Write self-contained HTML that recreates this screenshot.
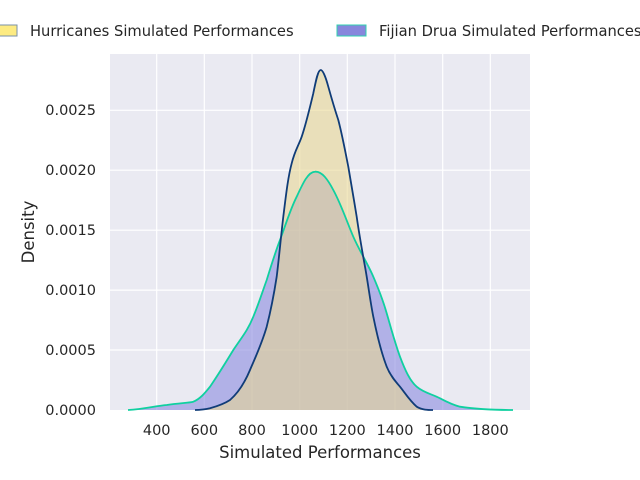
<!DOCTYPE html>
<html><head><meta charset="utf-8"><style>html,body{margin:0;padding:0;background:#fff}svg{display:block}text{font-family:"DejaVu Sans","Liberation Sans",sans-serif;fill:#262626}</style></head>
<body>
<svg width="640" height="480" viewBox="0 0 640 480" xmlns="http://www.w3.org/2000/svg">
<rect x="110" y="54" width="420" height="356" fill="#eaeaf2"/>
<g stroke="#fff" stroke-width="1.2">
<line x1="156.7" y1="54" x2="156.7" y2="410"/><line x1="204.3" y1="54" x2="204.3" y2="410"/>
<line x1="252" y1="54" x2="252" y2="410"/><line x1="299.7" y1="54" x2="299.7" y2="410"/>
<line x1="347.3" y1="54" x2="347.3" y2="410"/><line x1="395" y1="54" x2="395" y2="410"/>
<line x1="442.7" y1="54" x2="442.7" y2="410"/><line x1="490.3" y1="54" x2="490.3" y2="410"/>
<line x1="110" y1="110.3" x2="530" y2="110.3"/><line x1="110" y1="170.2" x2="530" y2="170.2"/>
<line x1="110" y1="230.2" x2="530" y2="230.2"/><line x1="110" y1="290.1" x2="530" y2="290.1"/>
<line x1="110" y1="350" x2="530" y2="350"/>
</g>
<path d="M128,410 C145,409 155,406 166.7,405 C180,403 188,403 193.3,401.7 C200,399 205,393 210,386.7 C218,375 226,362 233.3,350 C242,337 248,330 253.3,316.7 C259,303 262,293 266.7,280 C271,266 275,253 280,240 C286,224 290,210 296.7,196.7 C303,183 308,172 315,171.7 C322,171 328,180 333.3,190 C341,204 347,222 353.3,236.7 C360,252 368,264 373.3,276.7 C379,290 383,300 386.7,313.3 C391,328 395,343 400,356.7 C405,370 410,381 416.7,386.7 C424,393 432,394 440,398.3 C447,402 453,405 460,406.7 C475,409 495,410 513,410 Z" fill="#8b8be0" fill-opacity="0.6"/>
<path d="M195,410 C200,410 205,409.5 210,408.3 C218,406 224,404 230,400 C238,393 245,382 250,370 C256,356 262,343 266.7,326.7 C271,310 274,294 276.7,276.7 C279,258 281,236 283.3,216.7 C286,195 288,177 291.7,163.3 C295,150 298,147 301.7,136.7 C306,124 310,107 313.3,93.3 C316,80 318,70 320.7,70 C323,70 326,78 328.3,86.7 C332,100 335,110 338.3,120 C342,134 345,150 348.3,166.7 C351,183 354,200 356.7,216.7 C359,233 362,250 365,266.7 C368,283 370,300 373.3,316.7 C377,335 381,352 386.7,366.7 C390,375 395,381 400,386.7 C405,393 410,401 416.7,406.7 C422,410 428,410 433,410 Z" fill="#e8d890" fill-opacity="0.58"/>
<path d="M128,410 C145,409 155,406 166.7,405 C180,403 188,403 193.3,401.7 C200,399 205,393 210,386.7 C218,375 226,362 233.3,350 C242,337 248,330 253.3,316.7 C259,303 262,293 266.7,280 C271,266 275,253 280,240 C286,224 290,210 296.7,196.7 C303,183 308,172 315,171.7 C322,171 328,180 333.3,190 C341,204 347,222 353.3,236.7 C360,252 368,264 373.3,276.7 C379,290 383,300 386.7,313.3 C391,328 395,343 400,356.7 C405,370 410,381 416.7,386.7 C424,393 432,394 440,398.3 C447,402 453,405 460,406.7 C475,409 495,410 513,410" fill="none" stroke="#10d0a0" stroke-width="1.8"/>
<path d="M195,410 C200,410 205,409.5 210,408.3 C218,406 224,404 230,400 C238,393 245,382 250,370 C256,356 262,343 266.7,326.7 C271,310 274,294 276.7,276.7 C279,258 281,236 283.3,216.7 C286,195 288,177 291.7,163.3 C295,150 298,147 301.7,136.7 C306,124 310,107 313.3,93.3 C316,80 318,70 320.7,70 C323,70 326,78 328.3,86.7 C332,100 335,110 338.3,120 C342,134 345,150 348.3,166.7 C351,183 354,200 356.7,216.7 C359,233 362,250 365,266.7 C368,283 370,300 373.3,316.7 C377,335 381,352 386.7,366.7 C390,375 395,381 400,386.7 C405,393 410,401 416.7,406.7 C422,410 428,410 433,410" fill="none" stroke="#103c78" stroke-width="1.8"/>
<g font-size="14.5" text-anchor="middle">
<text x="156.7" y="435">400</text><text x="204.3" y="435">600</text><text x="252" y="435">800</text>
<text x="299.7" y="435">1000</text><text x="347.3" y="435">1200</text><text x="395" y="435">1400</text>
<text x="442.7" y="435">1600</text><text x="490.3" y="435">1800</text>
</g>
<g font-size="14.5" text-anchor="end">
<text x="96" y="415">0.0000</text><text x="96" y="355">0.0005</text><text x="96" y="295">0.0010</text>
<text x="96" y="235">0.0015</text><text x="96" y="175">0.0020</text><text x="96" y="115">0.0025</text>
</g>
<text x="320" y="458" font-size="16.5" text-anchor="middle">Simulated Performances</text>
<text transform="translate(34,232) rotate(-90)" font-size="16.5" text-anchor="middle">Density</text>
<rect x="-10" y="25" width="27" height="11" fill="#fdeb82" stroke="#7a90a8" stroke-width="1"/>
<text x="30" y="36" font-size="14.7">Hurricanes Simulated Performances</text>
<rect x="337" y="25" width="29" height="11" fill="#8787dc" stroke="#30d0b0" stroke-width="1"/>
<text x="379" y="36" font-size="14.7">Fijian Drua Simulated Performances</text>
</svg>
</body></html>
